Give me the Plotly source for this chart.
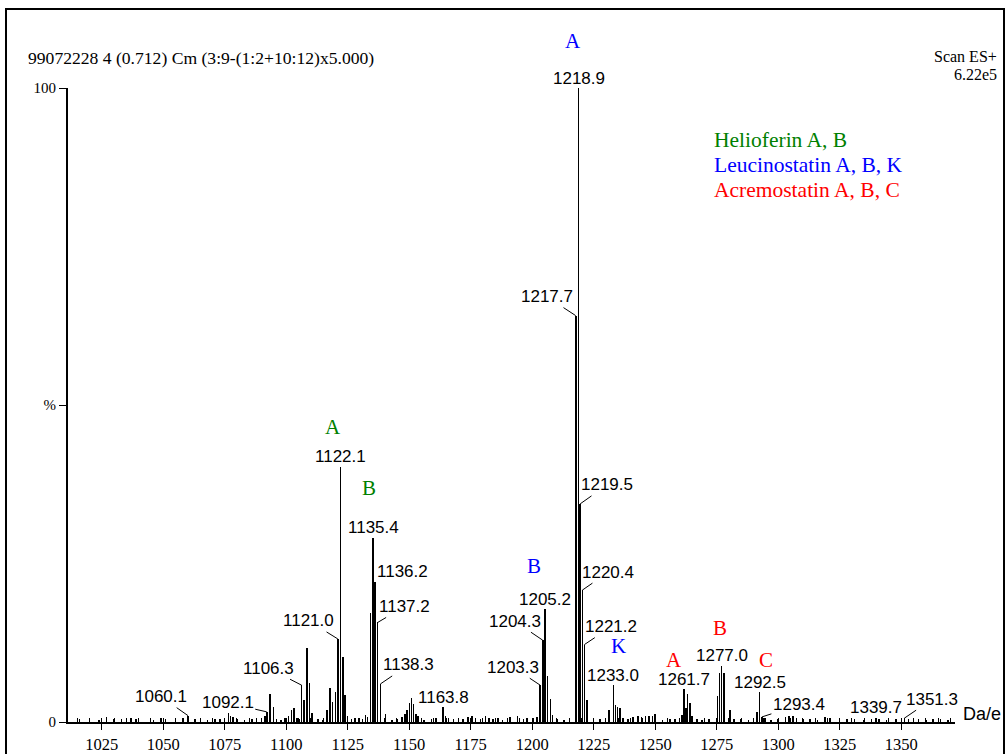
import plotly.graph_objects as go

# ---------------- spectrum data (m/z, relative intensity %) ----------------
mz = [
    1016.0, 1020.0, 1024.0, 1027.0, 1030.0, 1033.0, 1037.0, 1039.0, 1046.0, 1049.0,
    1051.0, 1055.0, 1058.0, 1060.1, 1063.0, 1068.0, 1071.0, 1073.0, 1076.5, 1077.3,
    1078.3, 1080.0, 1083.0, 1086.0, 1088.0, 1090.0, 1091.3, 1092.1, 1093.4, 1094.8,
    1096.0, 1098.0, 1099.5, 1101.0, 1102.2, 1103.2, 1104.3, 1105.4, 1106.3, 1107.2,
    1108.5, 1109.4, 1110.4, 1113.0, 1115.0, 1116.7, 1117.8, 1118.9, 1120.1, 1121.0,
    1122.1, 1123.0, 1124.0, 1125.0, 1126.5, 1128.0, 1129.5, 1131.0, 1132.3, 1133.0,
    1134.3, 1135.4, 1136.2, 1137.2, 1138.3, 1140.3, 1143.0, 1145.0, 1147.0, 1148.2,
    1149.0, 1150.1, 1150.9, 1151.8, 1152.8, 1153.7, 1156.0, 1159.0, 1161.0, 1163.8,
    1164.8, 1166.0, 1168.0, 1170.0, 1172.0, 1174.0, 1175.5, 1177.0, 1179.0, 1181.0,
    1182.5, 1184.0, 1186.0, 1188.0, 1191.0, 1194.0, 1196.5, 1198.0, 1200.5, 1202.0,
    1203.3, 1204.3, 1205.2, 1206.3, 1207.4, 1208.3, 1210.0, 1213.0, 1217.7, 1218.9,
    1219.5, 1220.4, 1221.2, 1222.2, 1225.0, 1227.5, 1231.3, 1233.0, 1233.9, 1234.7,
    1235.8, 1237.0, 1239.0, 1241.0, 1243.0, 1244.5, 1246.0, 1247.5, 1249.0, 1250.0,
    1253.0, 1256.0, 1258.0, 1260.8, 1261.7, 1262.5, 1263.2, 1264.1, 1265.1, 1267.0,
    1269.0, 1272.0, 1275.4, 1276.1, 1277.0, 1278.0, 1280.4, 1282.0, 1285.0, 1288.0,
    1291.3, 1292.5, 1293.4, 1294.2, 1297.0, 1300.0, 1303.0, 1304.5, 1306.0, 1307.5,
    1310.0, 1313.0, 1316.0, 1319.0, 1321.0, 1325.0, 1328.0, 1331.0, 1335.0, 1338.0,
    1339.7, 1341.0, 1344.0, 1348.0, 1351.3, 1353.0, 1357.0, 1360.0, 1363.0, 1366.0,
    1369.0,
]
intensity = [
    0.4, 0.5, 0.3, 0.8, 0.5, 0.4, 0.6, 0.5, 0.3, 0.7,
    0.5, 0.3, 0.6, 1.0, 0.4, 0.3, 0.5, 0.4, 1.4, 0.9,
    0.8, 0.4, 0.3, 0.5, 0.7, 0.5, 0.9, 1.6, 4.4, 2.3,
    0.5, 0.3, 0.6, 1.0, 1.9, 2.2, 0.6, 0.5, 5.8, 3.5,
    11.6, 6.1, 1.4, 0.5, 0.3, 1.9, 5.3, 3.2, 4.8, 13.1,
    40.3, 10.2, 4.2, 1.0, 0.5, 0.6, 0.7, 0.5, 1.1, 0.8,
    17.2, 29.1, 22.1, 15.7, 6.0, 1.2, 0.3, 0.5, 0.8, 1.3,
    1.9, 3.0, 3.8, 2.8, 1.2, 1.0, 0.3, 0.4, 0.6, 2.3,
    1.0, 0.6, 0.4, 0.7, 0.5, 0.8, 1.0, 0.6, 0.5, 0.9,
    0.6, 0.4, 0.6, 0.3, 0.8, 0.9, 0.5, 0.7, 0.6, 0.8,
    5.8, 12.9, 17.8, 7.2, 3.7, 1.1, 0.4, 0.3, 64.1, 100.0,
    34.4, 20.8, 12.2, 3.4, 0.5, 0.4, 1.9, 5.8, 2.7, 2.4,
    2.2, 0.6, 0.4, 0.8, 1.0, 0.8, 1.0, 0.9, 1.0, 1.3,
    0.3, 0.5, 0.4, 1.1, 5.2, 2.2, 4.4, 3.0, 1.0, 0.5,
    0.3, 0.4, 4.1, 7.7, 8.9, 7.7, 1.9, 0.4, 0.5, 0.3,
    1.6, 4.7, 0.8, 0.7, 0.3, 0.4, 0.8, 0.9, 1.0, 0.6,
    0.4, 0.5, 0.3, 0.8, 0.6, 0.3, 0.4, 0.5, 0.3, 0.4,
    0.7, 0.5, 0.3, 0.4, 0.6, 0.4, 0.5, 0.3, 0.5, 0.4,
    0.3,
]

# peaks carrying an m/z label, with leader offsets in px (None = label sits on the peak)
label_mz = [1060.1, 1092.1, 1106.3, 1121.0, 1122.1, 1135.4, 1136.2, 1137.2, 1138.3,
            1163.8, 1203.3, 1204.3, 1205.2, 1217.7, 1218.9, 1219.5, 1220.4, 1221.2,
            1233.0, 1261.7, 1277.0, 1292.5, 1293.4, 1339.7, 1351.3]
label_offset = [(-27, -19), (-39, -9), (-33, -17), (-29, -18), None, None, (27, -10),
                (27, -16), (28, -19), None, (-27, -18), (-28, -19), None, (-29, -19),
                None, (27, -19), (26, -18), (27, -18), None, None, None, None,
                (37, -12), None, (28, -19)]

# compound letters inside the plot: (text, colour, m/z, height %)
letters = [
    ("A", "#008000", 1119.0, 46.5), ("B", "#008000", 1133.7, 36.9),
    ("B", "#0000FF", 1200.7, 24.6), ("K", "#0000FF", 1235.3, 12.0),
    ("A", "#FF0000", 1257.6, 9.8), ("B", "#FF0000", 1276.3, 14.8),
    ("C", "#FF0000", 1295.0, 9.8),
]
# letter above the base peak sits in the top margin (pixel position)
top_letter = ("A", "#0000FF", 573, 41)

legend_lines = [("Helioferin A, B", "#008000"),
                ("Leucinostatin A, B, K", "#0000FF"),
                ("Acremostatin A, B, C", "#FF0000")]

x_ticks = [1025, 1050, 1075, 1100, 1125, 1150, 1175, 1200, 1225, 1250, 1275, 1300, 1325, 1350]
y_ticks = [0, 50, 100]
y_ticktext = ["0", "%", "100"]

header_left = "99072228 4 (0.712) Cm (3:9-(1:2+10:12)x5.000)"
header_right = ["Scan ES+", "6.22e5"]

SERIF = "Liberation Serif"
SANS = "Liberation Sans"

# ---------------- layout geometry ----------------
W, H = 1006, 754
L, R, T, B = 68, 51, 88, 32
PW, PH = W - L - R, H - T - B


def px_x(p):
    return (p - L) / PW


def px_y(p):
    return (H - B - p) / PH


fig = go.Figure()
fig.add_trace(go.Bar(x=mz, y=intensity, width=0.25, marker=dict(color="black", line=dict(width=0)),
                     hoverinfo="x+y", showlegend=False))

ann = []
peak_height = dict(zip(mz, intensity))
for m, off in zip(label_mz, label_offset):
    h = peak_height[m]
    txt = f"{m:.1f}"
    if off is None:
        ann.append(dict(x=m, y=h, text=txt, showarrow=False, yanchor="middle", yshift=10,
                        font=dict(family=SANS, size=17, color="black")))
    else:
        ann.append(dict(x=m, y=h, text=txt, showarrow=True, ax=off[0], ay=off[1],
                        arrowhead=0, arrowwidth=1, arrowcolor="black", standoff=0,
                        font=dict(family=SANS, size=17, color="black")))

for t, c, xv, yv in letters:
    ann.append(dict(x=xv, y=yv, text=t, showarrow=False, xanchor="center", yanchor="middle",
                    font=dict(family=SERIF, size=21, color=c)))
t, c, lx, ly = top_letter
ann.append(dict(xref="paper", yref="paper", x=px_x(lx), y=px_y(ly), text=t, showarrow=False,
                xanchor="center", yanchor="middle", font=dict(family=SERIF, size=21, color=c)))

for i, (t, c) in enumerate(legend_lines):
    ann.append(dict(xref="paper", yref="paper", x=px_x(712), y=px_y(140 + 25 * i), text=t,
                    showarrow=False, xanchor="left", yanchor="middle",
                    font=dict(family=SERIF, size=21.5, color=c)))

ann.append(dict(xref="paper", yref="paper", x=px_x(26), y=px_y(58), text=header_left,
                showarrow=False, xanchor="left", yanchor="middle",
                font=dict(family=SERIF, size=17.6, color="black")))
for i, t in enumerate(header_right):
    ann.append(dict(xref="paper", yref="paper", x=px_x(998), y=px_y(56 + 18.5 * i), text=t,
                    showarrow=False, xanchor="right", yanchor="middle", borderpad=0,
                    font=dict(family=SERIF, size=16, color="black")))
ann.append(dict(xref="paper", yref="paper", x=px_x(961), y=px_y(714), text="Da/e",
                showarrow=False, xanchor="left", yanchor="middle",
                font=dict(family=SANS, size=18, color="black")))

fig.update_layout(
    width=W, height=H,
    margin=dict(l=L, r=R, t=T, b=B, pad=0, autoexpand=False),
    paper_bgcolor="white", plot_bgcolor="white",
    bargap=0, showlegend=False,
    annotations=ann,
    shapes=[dict(type="rect", xref="paper", yref="paper",
                 x0=px_x(6), x1=px_x(1004), y0=px_y(770), y1=px_y(9),
                 line=dict(color="black", width=2), layer="below")],
    xaxis=dict(range=[1011.3, 1371.9], showgrid=False, zeroline=False, automargin=False,
               showline=True, linecolor="black", linewidth=2,
               tickmode="array", tickvals=x_ticks, ticks="outside", ticklen=6,
               tickcolor="black", tickwidth=1,
               minor=dict(dtick=5, tick0=1025, ticks="inside", ticklen=4,
                          tickcolor="black", tickwidth=1),
               tickfont=dict(family=SERIF, size=16.5, color="black")),
    yaxis=dict(range=[0, 100], showgrid=False, zeroline=False, automargin=False,
               showline=True, linecolor="black", linewidth=2,
               tickmode="array", tickvals=y_ticks, ticktext=y_ticktext,
               ticks="outside", ticklen=7, tickcolor="black", tickwidth=1,
               tickfont=dict(family=SERIF, size=15, color="black")),
)

fig.write_html("out.html")
